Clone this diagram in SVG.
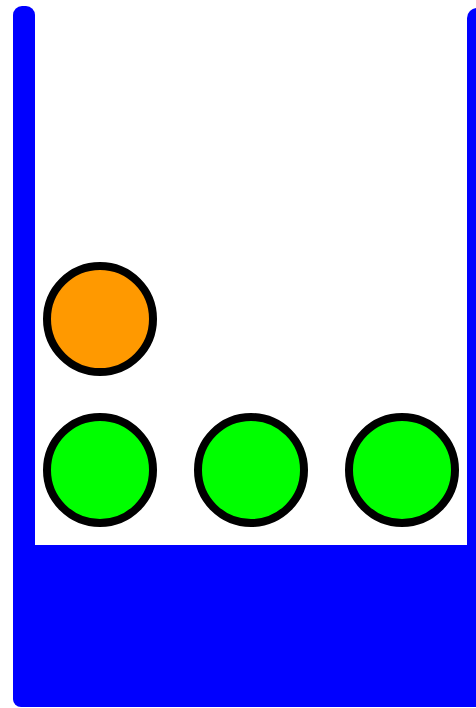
<svg xmlns="http://www.w3.org/2000/svg" width="476" height="708" viewBox="0 0 476 708">
<style>
.wall{fill:#0000ff}
.ball{stroke:#000;stroke-width:8}
.green{fill:#00ff00}
.orange{fill:#ff9900}
</style>
<rect width="476" height="708" fill="#fff"/>
<g id="container">
<rect class="wall" x="13" y="6" width="22" height="700" rx="9"/>
<rect class="wall" x="13" y="545" width="480" height="162" rx="8"/>
<rect class="wall" x="467" y="8" width="30" height="699" rx="10"/>
</g>
<g id="ball-orange"><circle class="ball orange" cx="100" cy="319" r="53"/></g>
<g id="ball-green-1"><circle class="ball green" cx="100" cy="470" r="53"/></g>
<g id="ball-green-2"><circle class="ball green" cx="251" cy="470" r="53"/></g>
<g id="ball-green-3"><circle class="ball green" cx="402" cy="470" r="53"/></g>
</svg>
